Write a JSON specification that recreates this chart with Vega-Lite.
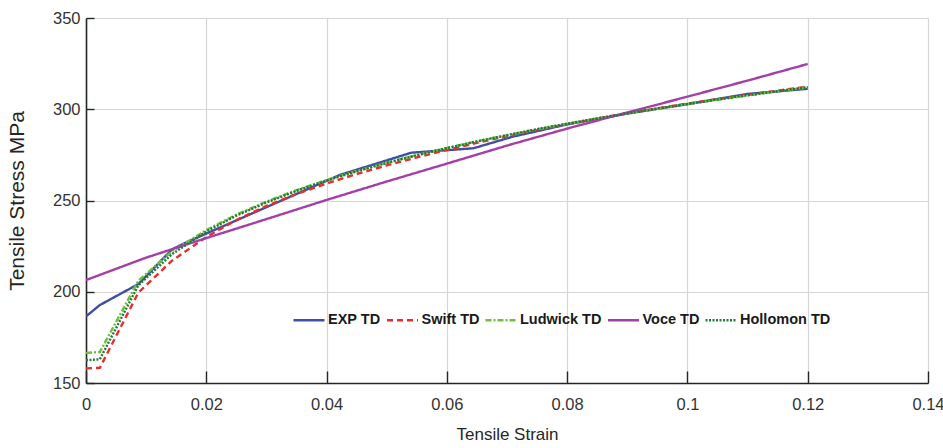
{
  "$schema": "https://vega.github.io/schema/vega-lite/v6.json",
  "autosize": "none",
  "width": 842,
  "height": 365,
  "padding": {"left": 86, "top": 18, "right": 15, "bottom": 65},
  "background": "white",
  "config": {"view": {"stroke": null}},
  "data": {"values": [
    {"series": "EXP TD", "strain": 0, "stress": 186.5},
    {"series": "EXP TD", "strain": 0.0023, "stress": 192.7},
    {"series": "EXP TD", "strain": 0.0087, "stress": 204.2},
    {"series": "EXP TD", "strain": 0.0143, "stress": 223.2},
    {"series": "EXP TD", "strain": 0.0165, "stress": 226.8},
    {"series": "EXP TD", "strain": 0.0422, "stress": 264.0},
    {"series": "EXP TD", "strain": 0.0541, "stress": 276.2},
    {"series": "EXP TD", "strain": 0.0588, "stress": 277.3},
    {"series": "EXP TD", "strain": 0.0644, "stress": 278.6},
    {"series": "EXP TD", "strain": 0.071, "stress": 285.0},
    {"series": "EXP TD", "strain": 0.08, "stress": 291.7},
    {"series": "EXP TD", "strain": 0.09, "stress": 297.6},
    {"series": "EXP TD", "strain": 0.1, "stress": 302.8},
    {"series": "EXP TD", "strain": 0.11, "stress": 308.4},
    {"series": "EXP TD", "strain": 0.12, "stress": 311.2},

    {"series": "Swift TD", "strain": 0, "stress": 158.0},
    {"series": "Swift TD", "strain": 0.0023, "stress": 158.3},
    {"series": "Swift TD", "strain": 0.0087, "stress": 199.5},
    {"series": "Swift TD", "strain": 0.0143, "stress": 217.0},
    {"series": "Swift TD", "strain": 0.02, "stress": 230.0},
    {"series": "Swift TD", "strain": 0.025, "stress": 239.3},
    {"series": "Swift TD", "strain": 0.03, "stress": 247.0},
    {"series": "Swift TD", "strain": 0.035, "stress": 253.6},
    {"series": "Swift TD", "strain": 0.04, "stress": 259.3},
    {"series": "Swift TD", "strain": 0.045, "stress": 264.5},
    {"series": "Swift TD", "strain": 0.05, "stress": 269.2},
    {"series": "Swift TD", "strain": 0.055, "stress": 273.6},
    {"series": "Swift TD", "strain": 0.06, "stress": 277.7},
    {"series": "Swift TD", "strain": 0.065, "stress": 281.6},
    {"series": "Swift TD", "strain": 0.07, "stress": 285.2},
    {"series": "Swift TD", "strain": 0.075, "stress": 288.6},
    {"series": "Swift TD", "strain": 0.08, "stress": 291.8},
    {"series": "Swift TD", "strain": 0.085, "stress": 294.9},
    {"series": "Swift TD", "strain": 0.09, "stress": 297.8},
    {"series": "Swift TD", "strain": 0.095, "stress": 300.5},
    {"series": "Swift TD", "strain": 0.1, "stress": 303.1},
    {"series": "Swift TD", "strain": 0.105, "stress": 305.6},
    {"series": "Swift TD", "strain": 0.11, "stress": 307.9},
    {"series": "Swift TD", "strain": 0.115, "stress": 310.2},
    {"series": "Swift TD", "strain": 0.12, "stress": 312.4},

    {"series": "Ludwick TD", "strain": 0, "stress": 166.5},
    {"series": "Ludwick TD", "strain": 0.0023, "stress": 167.0},
    {"series": "Ludwick TD", "strain": 0.0087, "stress": 206.0},
    {"series": "Ludwick TD", "strain": 0.0143, "stress": 222.2},
    {"series": "Ludwick TD", "strain": 0.02, "stress": 233.8},
    {"series": "Ludwick TD", "strain": 0.025, "stress": 242.3},
    {"series": "Ludwick TD", "strain": 0.03, "stress": 249.4},
    {"series": "Ludwick TD", "strain": 0.035, "stress": 255.7},
    {"series": "Ludwick TD", "strain": 0.04, "stress": 261.2},
    {"series": "Ludwick TD", "strain": 0.045, "stress": 266.2},
    {"series": "Ludwick TD", "strain": 0.05, "stress": 270.7},
    {"series": "Ludwick TD", "strain": 0.055, "stress": 274.9},
    {"series": "Ludwick TD", "strain": 0.06, "stress": 278.8},
    {"series": "Ludwick TD", "strain": 0.065, "stress": 282.4},
    {"series": "Ludwick TD", "strain": 0.07, "stress": 285.8},
    {"series": "Ludwick TD", "strain": 0.075, "stress": 289.0},
    {"series": "Ludwick TD", "strain": 0.08, "stress": 292.0},
    {"series": "Ludwick TD", "strain": 0.085, "stress": 294.9},
    {"series": "Ludwick TD", "strain": 0.09, "stress": 297.7},
    {"series": "Ludwick TD", "strain": 0.095, "stress": 300.3},
    {"series": "Ludwick TD", "strain": 0.1, "stress": 302.8},
    {"series": "Ludwick TD", "strain": 0.105, "stress": 305.2},
    {"series": "Ludwick TD", "strain": 0.11, "stress": 307.5},
    {"series": "Ludwick TD", "strain": 0.115, "stress": 309.8},
    {"series": "Ludwick TD", "strain": 0.12, "stress": 312.0},

    {"series": "Voce TD", "strain": 0, "stress": 206.4},
    {"series": "Voce TD", "strain": 0.01, "stress": 218.7},
    {"series": "Voce TD", "strain": 0.02, "stress": 229.4},
    {"series": "Voce TD", "strain": 0.03, "stress": 239.8},
    {"series": "Voce TD", "strain": 0.04, "stress": 250.3},
    {"series": "Voce TD", "strain": 0.05, "stress": 260.4},
    {"series": "Voce TD", "strain": 0.06, "stress": 270.2},
    {"series": "Voce TD", "strain": 0.07, "stress": 280.1},
    {"series": "Voce TD", "strain": 0.08, "stress": 289.4},
    {"series": "Voce TD", "strain": 0.09, "stress": 298.2},
    {"series": "Voce TD", "strain": 0.1, "stress": 306.9},
    {"series": "Voce TD", "strain": 0.11, "stress": 315.7},
    {"series": "Voce TD", "strain": 0.12, "stress": 324.8},

    {"series": "Hollomon TD", "strain": 0, "stress": 162.5},
    {"series": "Hollomon TD", "strain": 0.0023, "stress": 163.0},
    {"series": "Hollomon TD", "strain": 0.0087, "stress": 203.5},
    {"series": "Hollomon TD", "strain": 0.0143, "stress": 220.6},
    {"series": "Hollomon TD", "strain": 0.02, "stress": 233.0},
    {"series": "Hollomon TD", "strain": 0.025, "stress": 241.7},
    {"series": "Hollomon TD", "strain": 0.03, "stress": 248.9},
    {"series": "Hollomon TD", "strain": 0.035, "stress": 255.3},
    {"series": "Hollomon TD", "strain": 0.04, "stress": 260.9},
    {"series": "Hollomon TD", "strain": 0.045, "stress": 266.0},
    {"series": "Hollomon TD", "strain": 0.05, "stress": 270.6},
    {"series": "Hollomon TD", "strain": 0.055, "stress": 274.8},
    {"series": "Hollomon TD", "strain": 0.06, "stress": 278.7},
    {"series": "Hollomon TD", "strain": 0.065, "stress": 282.4},
    {"series": "Hollomon TD", "strain": 0.07, "stress": 285.8},
    {"series": "Hollomon TD", "strain": 0.075, "stress": 289.1},
    {"series": "Hollomon TD", "strain": 0.08, "stress": 292.1},
    {"series": "Hollomon TD", "strain": 0.085, "stress": 295.0},
    {"series": "Hollomon TD", "strain": 0.09, "stress": 297.8},
    {"series": "Hollomon TD", "strain": 0.095, "stress": 300.4},
    {"series": "Hollomon TD", "strain": 0.1, "stress": 302.9},
    {"series": "Hollomon TD", "strain": 0.105, "stress": 305.3},
    {"series": "Hollomon TD", "strain": 0.11, "stress": 307.7},
    {"series": "Hollomon TD", "strain": 0.115, "stress": 309.9},
    {"series": "Hollomon TD", "strain": 0.12, "stress": 312.1}
  ]},
  "mark": {"type": "line", "strokeWidth": 2.4, "clip": true},
  "encoding": {
    "x": {
      "field": "strain", "type": "quantitative",
      "scale": {"domain": [0, 0.14], "nice": false, "zero": false},
      "axis": {
        "title": "Tensile Strain",
        "values": [0, 0.02, 0.04, 0.06, 0.08, 0.1, 0.12, 0.14],
        "format": "~g",
        "grid": true, "gridColor": "#d6d6d6", "gridWidth": 1.2,
        "domainColor": "#262626", "domainWidth": 1.6,
        "tickColor": "#262626", "tickSize": -12, "tickWidth": 1.4,
        "labelPadding": 25,
        "labelFont": "Liberation Sans",
        "labelFontSize": 16.5, "labelColor": "#333333",
        "labelFlush": false,
        "titleFont": "Liberation Sans",
        "titleFontSize": 17, "titleFontWeight": "normal", "titleColor": "#262626",
        "titlePadding": 14
      }
    },
    "y": {
      "field": "stress", "type": "quantitative",
      "scale": {"domain": [150, 350], "nice": false, "zero": false},
      "axis": {
        "title": "Tensile Stress MPa",
        "values": [150, 200, 250, 300, 350],
        "grid": true, "gridColor": "#d6d6d6", "gridWidth": 1.2,
        "domainColor": "#262626", "domainWidth": 1.6,
        "tickColor": "#262626", "tickSize": -8, "tickWidth": 1.4,
        "labelPadding": 14,
        "labelFont": "Liberation Sans",
        "labelFontSize": 16.5, "labelColor": "#333333",
        "labelFlush": false,
        "titleFont": "Liberation Sans",
        "titleFontSize": 21, "titleFontWeight": "normal", "titleColor": "#262626",
        "titlePadding": 25
      }
    },
    "color": {
      "field": "series", "type": "nominal",
      "scale": {
        "domain": ["EXP TD", "Swift TD", "Ludwick TD", "Voce TD", "Hollomon TD"],
        "range": ["#3f4fa6", "#ee2b2b", "#6cc03e", "#a43fa8", "#1f7a36"]
      },
      "legend": {
        "title": null,
        "orient": "none",
        "direction": "horizontal",
        "legendX": 204,
        "legendY": 283,
        "symbolType": "stroke",
        "symbolSize": 961,
        "symbolStrokeWidth": 2.4,
        "labelFont": "Liberation Sans",
        "labelFontSize": 14.5, "labelFontWeight": "bold", "labelColor": "#1a1a1a",
        "labelOffset": 2,
        "columnPadding": 0.5,
        "padding": 2
      }
    },
    "strokeDash": {
      "field": "series", "type": "nominal",
      "scale": {
        "domain": ["EXP TD", "Swift TD", "Ludwick TD", "Voce TD", "Hollomon TD"],
        "range": [[1, 0], [6, 4], [6, 2, 2, 2], [1, 0], [2, 1.5]]
      },
      "legend": null
    }
  }
}
